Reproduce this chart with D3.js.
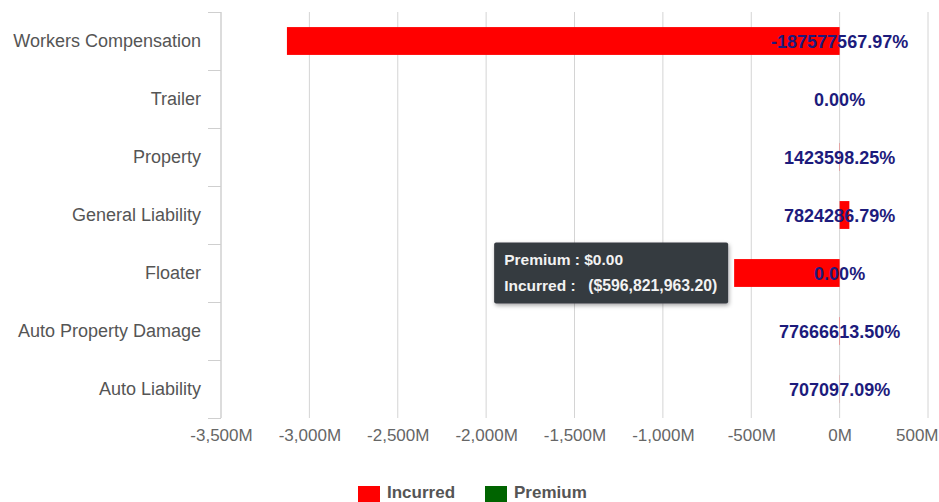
<!DOCTYPE html>
<html>
<head>
<meta charset="utf-8">
<script src="https://cdn.jsdelivr.net/npm/d3@7/dist/d3.min.js"></script>
<style>
  html, body { margin: 0; padding: 0; background: #fff; }
  svg { display: block; font-family: "Liberation Sans", Arial, sans-serif; }
</style>
</head>
<body>
<svg id="chart" width="939" height="502"></svg>
<script>
// Lines of business, top to bottom
const categories = ["Workers Compensation", "Trailer", "Property", "General Liability",
                    "Floater", "Auto Property Damage", "Auto Liability"];
// Incurred losses, millions of dollars
const incurred = [-3127, 0, 1.4, 55, -596.8219632, 1.6, 0.7];
// Earned premium, millions of dollars
const premium = [0.00167, 0, 0.0001, 0.0007, 0, 0.000002, 0.0001];
// Loss ratio labels shown at the zero line
const ratioLabels = ["-187577567.97%", "0.00%", "1423598.25%", "7824286.79%",
                     "0.00%", "77666613.50%", "707097.09%"];
// Value axis ticks, millions
const xTicks = [-3500, -3000, -2500, -2000, -1500, -1000, -500, 0, 500];
const seriesNames = ["Incurred", "Premium"];
const seriesColors = ["#ff0000", "#006400"];
// Category shown in the hover box
const hoverIndex = 4;

const svg = d3.select("#chart");
const W = 939;
const plot = { left: 221, right: 928, top: 12, bottom: 418 };

const x = d3.scaleLinear().domain([-3500, 500]).range([plot.left, plot.right]);
const y = d3.scaleBand().domain(categories).range([plot.top, plot.bottom]).padding(0);
const barH = y.bandwidth() * 0.48;
const barY = c => y(c) + (y.bandwidth() - barH) / 2;

// vertical gridlines
svg.append("g")
  .selectAll("line")
  .data(xTicks)
  .join("line")
  .attr("x1", d => x(d)).attr("x2", d => x(d))
  .attr("y1", plot.top).attr("y2", plot.bottom)
  .attr("stroke", "#d4d4d4").attr("stroke-width", 1);

// x axis labels (plain hyphen for negatives)
const xAxis = d3.axisBottom(x).tickValues(xTicks)
  .tickFormat(d => d3.format(",")(d).replace("\u2212", "-") + "M").tickSize(0).tickPadding(0);
const gx = svg.append("g").attr("transform", `translate(0,${plot.bottom + 11})`).call(xAxis);
gx.select(".domain").remove();
gx.selectAll("text")
  .attr("dy", "0.71em")
  .attr("fill", "#666")
  .style("font-size", "17px")
  .style("font-family", "'Liberation Sans', Arial, sans-serif");
// keep the last label inside the canvas
gx.selectAll(".tick")
  .filter(d => d === xTicks[xTicks.length - 1])
  .select("text")
  .attr("text-anchor", "end")
  .attr("x", W - 1 - x(xTicks[xTicks.length - 1]));

// y axis with band boundary ticks
const gy = svg.append("g").attr("transform", `translate(${plot.left},0)`);
gy.append("line")
  .attr("x1", 0).attr("x2", 0).attr("y1", plot.top).attr("y2", plot.bottom)
  .attr("stroke", "#cfcfcf");
const bounds = categories.map(c => y(c)).concat([plot.bottom]);
gy.selectAll("line.tick")
  .data(bounds)
  .join("line")
  .attr("class", "tick")
  .attr("x1", -13).attr("x2", 0)
  .attr("y1", d => Math.round(d) + 0.5).attr("y2", d => Math.round(d) + 0.5)
  .attr("stroke", "#cfcfcf");
gy.selectAll("text")
  .data(categories)
  .join("text")
  .attr("x", -20)
  .attr("y", d => y(d) + y.bandwidth() / 2)
  .attr("dy", "0.35em")
  .attr("text-anchor", "end")
  .attr("fill", "#555")
  .style("font-size", "18px")
  .text(d => d);

// bars: incurred, then premium drawn over the same band
const rows = categories.map((c, i) => ({ c, incurred: incurred[i], premium: premium[i], label: ratioLabels[i] }));
[["incurred", 0], ["premium", 1]].forEach(([key, k]) => {
  svg.append("g")
    .selectAll("rect")
    .data(rows)
    .join("rect")
    .attr("x", d => Math.min(x(0), x(d[key])))
    .attr("width", d => Math.abs(x(d[key]) - x(0)))
    .attr("y", d => barY(d.c))
    .attr("height", barH)
    .attr("fill", seriesColors[k]);
});

// ratio labels centred on the zero line
svg.append("g")
  .selectAll("text")
  .data(rows)
  .join("text")
  .attr("x", x(0))
  .attr("y", d => y(d.c) + y.bandwidth() / 2 + 1)
  .attr("dy", "0.35em")
  .attr("text-anchor", "middle")
  .attr("fill", "#1d1b7c")
  .style("font-size", "18px")
  .style("font-weight", "bold")
  .text(d => d.label);

// hover box for the selected category
const money = d3.format("$,.2f");
const fmtMoney = v => v < 0 ? "(" + money(-v) + ")" : money(v);
const hv = rows[hoverIndex];
const tipW = 234, tipH = 61;
const tipX = Math.min(x(0), x(hv.incurred)) - 6 - tipW;
const tipY = y(hv.c) + y.bandwidth() / 2 - tipH / 2;

const defs = svg.append("defs");
const f = defs.append("filter").attr("id", "tipShadow")
  .attr("x", "-10%").attr("y", "-20%").attr("width", "130%").attr("height", "150%");
f.append("feDropShadow").attr("dx", 1).attr("dy", 2).attr("stdDeviation", 2)
  .attr("flood-color", "#000").attr("flood-opacity", 0.35);

const tip = svg.append("g").attr("transform", `translate(${tipX},${tipY})`);
tip.append("rect")
  .attr("width", tipW).attr("height", tipH).attr("rx", 2)
  .attr("fill", "#363a40").attr("filter", "url(#tipShadow)");
const tipText = tip.append("g").attr("fill", "#f2f2f2")
  .style("font-size", "15.5px").style("font-weight", "bold");
tipText.append("text").attr("x", 10).attr("y", 22)
  .text("Premium : " + fmtMoney(hv.premium * 1e6));
tipText.append("text").attr("x", 10).attr("y", 48).text("Incurred :");
tipText.append("text").attr("x", 94).attr("y", 48)
  .style("font-size", "15.8px").text(fmtMoney(hv.incurred * 1e6));

// legend
const legend = svg.append("g");
const legendX = [358, 485];
seriesNames.forEach((name, k) => {
  legend.append("rect")
    .attr("x", legendX[k]).attr("y", 486).attr("width", 22).attr("height", 16)
    .attr("fill", seriesColors[k]);
  legend.append("text")
    .attr("x", legendX[k] + 29).attr("y", 498)
    .attr("fill", "#555")
    .style("font-size", "17px").style("font-weight", "bold")
    .text(name);
});
</script>
</body>
</html>
